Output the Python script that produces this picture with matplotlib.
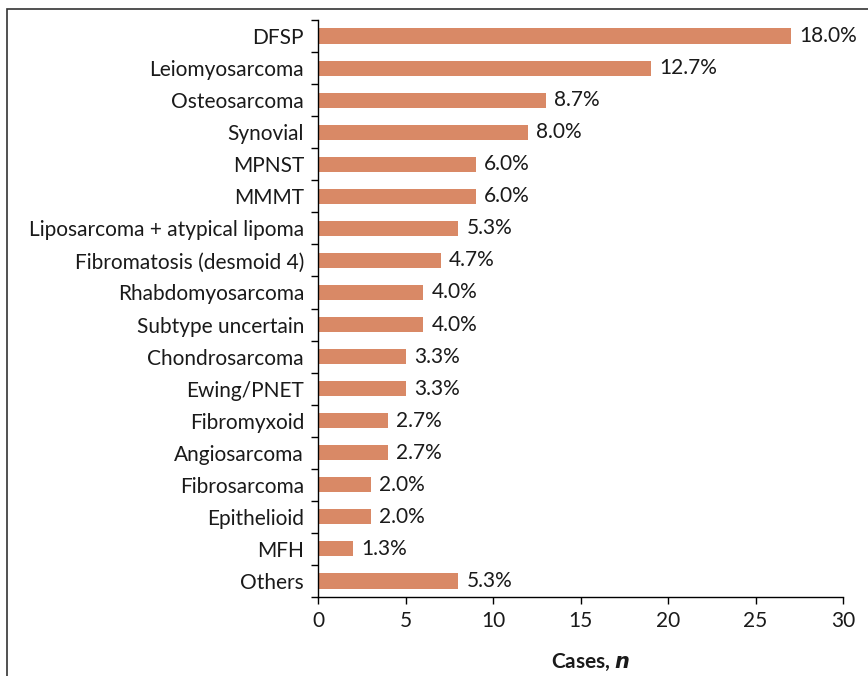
import numpy as np
import matplotlib
matplotlib.use("Agg")
import matplotlib.pyplot as plt
from matplotlib.patches import Rectangle

# sarcoma subtypes, number of cases (total 150)
categories = ["DFSP", "Leiomyosarcoma", "Osteosarcoma", "Synovial", "MPNST", "MMMT",
              "Liposarcoma + atypical lipoma", "Fibromatosis (desmoid 4)",
              "Rhabdomyosarcoma", "Subtype uncertain", "Chondrosarcoma", "Ewing/PNET",
              "Fibromyxoid", "Angiosarcoma", "Fibrosarcoma", "Epithelioid", "MFH", "Others"]
cases = [27, 19, 13, 12, 9, 9, 8, 7, 6, 6, 5, 5, 4, 4, 3, 3, 2, 8]
pct_labels = ["18.0%", "12.7%", "8.7%", "8.0%", "6.0%", "6.0%", "5.3%", "4.7%", "4.0%",
              "4.0%", "3.3%", "3.3%", "2.7%", "2.7%", "2.0%", "2.0%", "1.3%", "5.3%"]
xticks = [0, 5, 10, 15, 20, 25, 30]

plt.rcParams['font.family'] = ['Lato', 'DejaVu Sans']
fs = 15

fig = plt.figure(figsize=(8.68, 6.76), dpi=100)
ax = fig.add_axes([318/868, 1 - 597/676, (843 - 318)/868, (597 - 20)/676])

y = np.arange(len(categories))
ax.barh(y, cases, height=0.47, color="#D98966")
for yi, v, lab in zip(y, cases, pct_labels):
    ax.annotate(lab, (v, yi), xytext=(6, 0), textcoords="offset points",
                va="center", ha="left", fontsize=fs, color="#1a1a1a")

ax.set_ylim(len(categories) - 0.5, -0.5)
ax.set_xlim(0, 30)
ax.set_yticks(y)
ax.set_yticklabels(categories, fontsize=fs, color="#1a1a1a")
ax.set_yticks(np.arange(len(categories) + 1) - 0.5, minor=True)
ax.tick_params(axis="y", which="major", length=0, pad=10)
ax.tick_params(axis="y", which="minor", length=5, width=1, direction="out")
ax.set_xticks(xticks)
ax.set_xticklabels([str(t) for t in xticks], fontsize=fs, color="#1a1a1a")
ax.tick_params(axis="x", length=5, width=1, direction="out", pad=5)

for s in ["top", "right"]:
    ax.spines[s].set_visible(False)
for s in ["left", "bottom"]:
    ax.spines[s].set_linewidth(1)

fig.text(591/868, 1 - 662/676, r"Cases, $\bfit{n}$", ha="center", va="center",
         fontsize=fs, fontweight="bold", color="#1a1a1a")

# frame around the figure (cut off at right and bottom)
fig.patches.append(Rectangle((7/868, -0.1), 1.2, 1 - 9/676 + 0.1, transform=fig.transFigure,
                             fill=False, edgecolor="#333333", linewidth=1.2))

fig.savefig("out.png", dpi=100)
